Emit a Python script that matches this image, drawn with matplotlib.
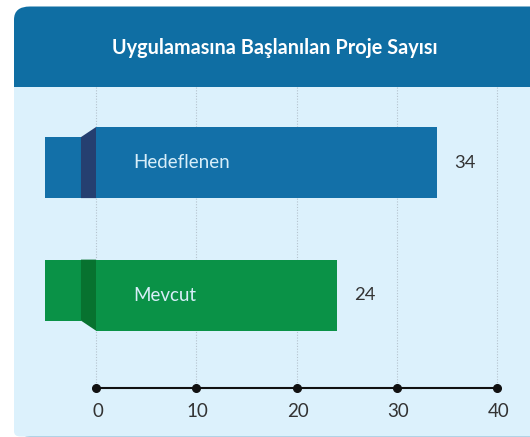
import matplotlib.pyplot as plt
from matplotlib.patches import FancyBboxPatch, Rectangle, Polygon
import numpy as np

# datos
categorias = ["Hedeflenen", "Mevcut"]
valores = [34, 24]
ticks = [0, 10, 20, 30, 40]
titulo = "Uygulamasına Başlanılan Proje Sayısı"

colores = ["#1370a8", "#0a9247"]
colores_osc = ["#253f70", "#07722f"]

plt.rcParams['font.family'] = ['Lato', 'DejaVu Sans']

fig = plt.figure(figsize=(5.30, 4.37), dpi=100)
W, H = 530, 437

# panel de fondo (coordenadas en pixeles de la figura)
fig.patches.append(FancyBboxPatch((14 / W, 0.5 / H), 560 / W, 430 / H,
                                  boxstyle="round,pad=0,rounding_size=0.03",
                                  transform=fig.transFigure, fc="#0f6ea3", ec="none", zorder=-3))
fig.patches.append(FancyBboxPatch((14 / W, 0.5 / H), 560 / W, 345 / H,
                                  boxstyle="round,pad=0,rounding_size=0.012",
                                  transform=fig.transFigure, fc="#dcf1fc", ec="none", zorder=-2))
fig.patches.append(Rectangle((14 / W, 300 / H), 560 / W, 50 / H,
                             transform=fig.transFigure, fc="#dcf1fc", ec="none", zorder=-2))
fig.text(275 / W, 1 - 48 / H, titulo, color="white", fontsize=14.3,
         fontweight="bold", ha="center", va="center")

ax = fig.add_axes([14 / W, 0, 516 / W, 350 / H])
ax.set_zorder(2)
ax.patch.set_visible(False)
ax.set_xlim((14 - 96) / 10.025, (530 - 96) / 10.025)
ax.set_ylim(2.07, -0.57)
ax.axis("off")

y = np.arange(len(categorias))
alto = 0.536
alto_st = 0.46
x_st = -5.09
x_pl = -1.5

# lineas de grilla
for t in ticks:
    ax.plot([t, t], [-0.57, 1.70], color="#b5c3ce", lw=0.8, ls=(0, (1, 1.5)), zorder=1)

ax.barh(y, valores, height=alto, color=colores, zorder=3)

for i in range(len(categorias)):
    top = y[i] - alto / 2
    bot = y[i] + alto / 2
    if i == 0:
        # doblez hacia abajo
        st_top, st_bot = bot - alto_st, bot
        pol = [(x_pl, st_top), (0, top), (0, bot), (x_pl, bot)]
    else:
        st_top, st_bot = top, top + alto_st
        pol = [(x_pl, top), (0, top), (0, bot), (x_pl, st_bot)]
    ax.barh((st_top + st_bot) / 2, x_pl - x_st, left=x_st, height=alto_st,
            color=colores[i], zorder=3)
    ax.add_patch(Polygon(pol, closed=True, fc=colores_osc[i], ec="none", zorder=3))
    ax.text(3.7, y[i], categorias[i], color="#d8eef9", fontsize=13.5,
            va="center", ha="left", zorder=4)
    ax.text(valores[i] + 1.7, y[i], str(valores[i]), color="#333333", fontsize=13.2,
            va="center", ha="left", zorder=4)

# eje x
y_eje = 1.70
ax.plot([ticks[0], ticks[-1]], [y_eje, y_eje], color="#111111", lw=1.5, zorder=4)
ax.plot(ticks, [y_eje] * len(ticks), "o", color="#111111", ms=5.5, zorder=5)
for t in ticks:
    ax.text(t + 0.15, y_eje + 0.175, str(t), color="#333333", fontsize=13.5,
            ha="center", va="center")

fig.savefig("out.png", dpi=100)
